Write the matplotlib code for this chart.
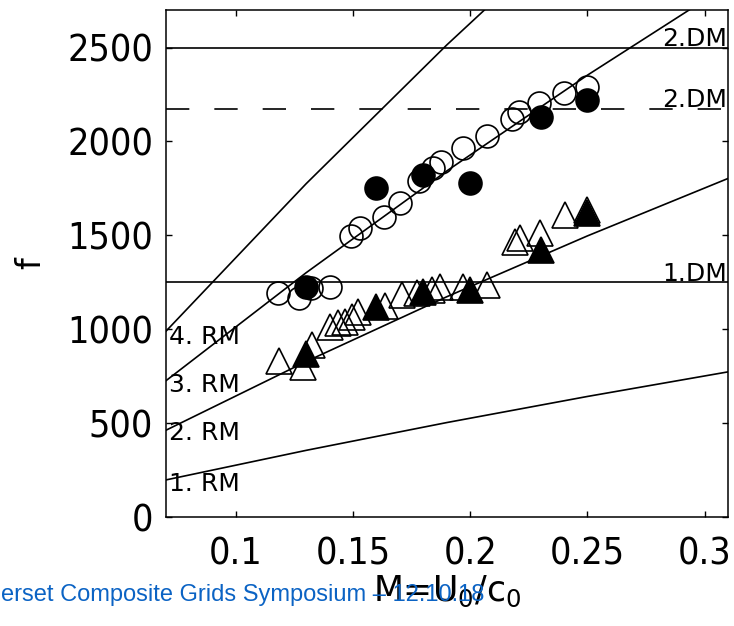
import matplotlib
matplotlib.use("Agg")
import matplotlib.pyplot as plt

# Rossiter mode curves (read at a few Mach numbers)
mach_grid = [0.07, 0.13, 0.19, 0.25, 0.31]
rm1 = [197, 355, 503, 642, 773]
rm2 = [461, 828, 1173, 1497, 1803]
rm3 = [724, 1301, 1843, 2353, 2833]
rm4 = [987, 1775, 2514, 3209, 3863]

# duct modes
dm2_solid = 2500
dm2_dashed = 2175
dm1 = 1250

# measurements
circ_open_M = [0.118, 0.127, 0.132, 0.140, 0.149, 0.153, 0.163, 0.170, 0.178, 0.184,
               0.1875, 0.197, 0.207, 0.218, 0.221, 0.2295, 0.240, 0.2497]
circ_open_f = [1191, 1165, 1218, 1226, 1499, 1539, 1598, 1674, 1789, 1857,
               1890, 1965, 2029, 2118, 2158, 2203, 2256, 2291]
circ_fill_M = [0.13, 0.16, 0.18, 0.20, 0.23, 0.25]
circ_fill_f = [1226, 1750, 1821, 1780, 2132, 2221]

tri_open_M = [0.1185, 0.1286, 0.1323, 0.140, 0.1437, 0.1465, 0.1494, 0.1522, 0.1636, 0.1708,
              0.1772, 0.1836, 0.1871, 0.1971, 0.207, 0.2191, 0.2213, 0.2298, 0.2405, 0.2497]
tri_open_f = [832, 799, 916, 1013, 1031, 1040, 1067, 1093, 1124, 1182,
              1191, 1209, 1226, 1226, 1235, 1466, 1484, 1511, 1608, 1635]
tri_fill_M = [0.13, 0.16, 0.18, 0.20, 0.23, 0.25]
tri_fill_f = [866, 1120, 1200, 1209, 1422, 1617]

xticks = [0.1, 0.15, 0.2, 0.25, 0.3]
xticklabels = ["0.1", "0.15", "0.2", "0.25", "0.3"]
yticks = [0, 500, 1000, 1500, 2000, 2500]

plt.rcParams["font.family"] = "DejaVu Sans"
plt.rcParams["mathtext.default"] = "regular"

fig = plt.figure(figsize=(7.34, 6.26), dpi=100)
ax = fig.add_axes([0.2255, 0.1741, 0.7664, 0.8099])

lw = 1.2
for curve in (rm1, rm2, rm3, rm4):
    ax.plot(mach_grid, curve, color="black", lw=lw)
ax.axhline(dm2_solid, color="black", lw=lw)
ax.axhline(dm2_dashed, color="black", lw=lw, dashes=(14, 15))
ax.axhline(dm1, color="black", lw=lw)

ms_c = 16.5
ms_t = 18.5
ax.plot(circ_open_M, circ_open_f, "o", ls="none", ms=ms_c, mfc="none", mec="black", mew=1.2)
ax.plot(tri_open_M, tri_open_f, "^", ls="none", ms=ms_t, mfc="none", mec="black", mew=1.2)
ax.plot(circ_fill_M, circ_fill_f, "o", ls="none", ms=ms_c, mfc="black", mec="black", mew=1.2)
ax.plot(tri_fill_M, tri_fill_f, "^", ls="none", ms=ms_t, mfc="black", mec="black", mew=1.2)

lab_fs = 18
for label, yb in [("4. RM", 924), ("3. RM", 666), ("2. RM", 410), ("1. RM", 140)]:
    ax.text(0.0716, yb, label, fontsize=lab_fs, ha="left", va="baseline")
for label, yb in [("2.DM", 2510), ("2.DM", 2183), ("1.DM", 1258)]:
    ax.text(0.3097, yb, label, fontsize=lab_fs, ha="right", va="baseline")

ax.set_xlim(0.07, 0.31)
ax.set_ylim(0, 2700)
ax.set_xticks(xticks)
ax.set_xticklabels(xticklabels)
ax.set_yticks(yticks)
ax.tick_params(direction="in", length=4.5, width=1, top=True, right=True)
ax.tick_params(axis="x", pad=14)
ax.tick_params(axis="y", pad=9)
for t in ax.get_xticklabels() + ax.get_yticklabels():
    t.set_fontsize(27)
    t.set_fontstretch("condensed")
for s in ax.spines.values():
    s.set_linewidth(1.1)

ax.set_xlabel(r"M=U$_0$/c$_0$", fontsize=25, labelpad=1)
ax.set_ylabel("f", fontsize=24)
ax.yaxis.set_label_coords(-0.211, 0.5)

fig.text(0.002, 0.040, "erset Composite Grids Symposium \u2013 12.10.18",
         fontsize=17, family="Liberation Sans", color="#0b63c4",
         ha="left", va="baseline")

fig.savefig("out.png", dpi=100)
